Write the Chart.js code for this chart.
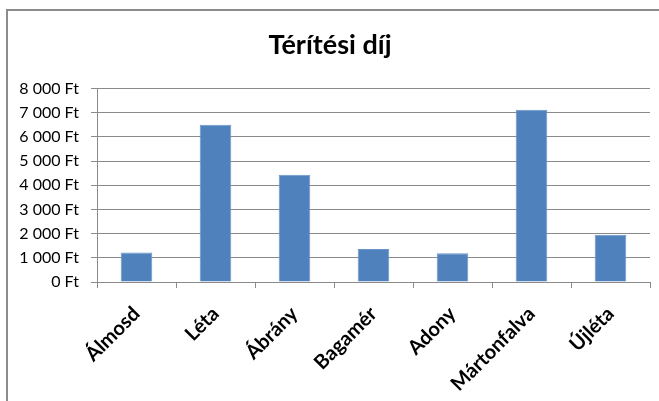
<!DOCTYPE html>
<html>
<head>
<meta charset="utf-8">
<script src="https://cdn.jsdelivr.net/npm/chart.js@4"></script>
<style>
  html, body { margin: 0; padding: 0; background: #fff; }
  #wrap {
    position: relative;
    width: 659px;
    height: 401px;
    overflow: hidden;
  }
  #frame {
    position: absolute;
    left: 6px;
    top: 9px;
    right: -4px;
    bottom: -4px;
    border-left: 2px solid #8c8c8c;
    border-top: 2px solid #8c8c8c;
  }
  canvas { position: absolute; left: 0; top: 0; }
</style>
</head>
<body>
<div id="wrap">
  <div id="frame"></div>
  <canvas id="feeChart" width="659" height="401"></canvas>
</div>
<script>
// Térítési díj településenként (Ft)
const towns = ['Álmosd', 'Léta', 'Ábrány', 'Bagamér', 'Adony', 'Mártonfalva', 'Újléta'];
const fees = [1220, 6500, 4430, 1360, 1190, 7120, 1950];
const yMax = 8000;
const yStep = 1000;

const fmtFt = v => String(v).replace(/\B(?=(\d{3})+(?!\d))/g, ' ') + ' Ft';

const gridGray = '#8a8a8a';

new Chart(document.getElementById('feeChart'), {
  type: 'bar',
  data: {
    labels: towns,
    datasets: [{
      label: 'Térítési díj',
      data: fees,
      backgroundColor: '#4f81bd',
      borderColor: '#6a95c8',
      borderWidth: 1,
      barPercentage: 0.4,
      categoryPercentage: 1
    }]
  },
  options: {
    responsive: false,
    animation: false,
    layout: { padding: { left: 10, right: 9, top: 0, bottom: 0 } },
    plugins: {
      legend: { display: false },
      tooltip: { enabled: false },
      title: {
        display: true,
        text: 'Térítési díj',
        color: '#000',
        font: { family: 'Lato', size: 27, weight: 'bold' },
        padding: { top: 29, bottom: 27 }
      }
    },
    scales: {
      x: {
        grid: {
          display: true,
          drawOnChartArea: false,
          drawTicks: true,
          tickLength: 6,
          color: gridGray,
          offset: true
        },
        border: { display: true, color: gridGray, width: 1 },
        ticks: {
          color: '#000',
          font: { family: 'Lato', size: 20, weight: 'bold' },
          minRotation: 45,
          maxRotation: 45,
          padding: 14
        },
        afterFit: scale => { scale.height = 119; }
      },
      y: {
        min: 0,
        max: yMax,
        ticks: {
          stepSize: yStep,
          color: '#000',
          font: { family: 'Lato', size: 16 },
          padding: 12,
          callback: v => fmtFt(v)
        },
        grid: {
          color: gridGray,
          lineWidth: 1,
          drawTicks: true,
          tickLength: 6
        },
        border: { display: true, color: gridGray, width: 1 },
        afterFit: scale => { scale.width = 87; }
      }
    }
  }
});
</script>
</body>
</html>
